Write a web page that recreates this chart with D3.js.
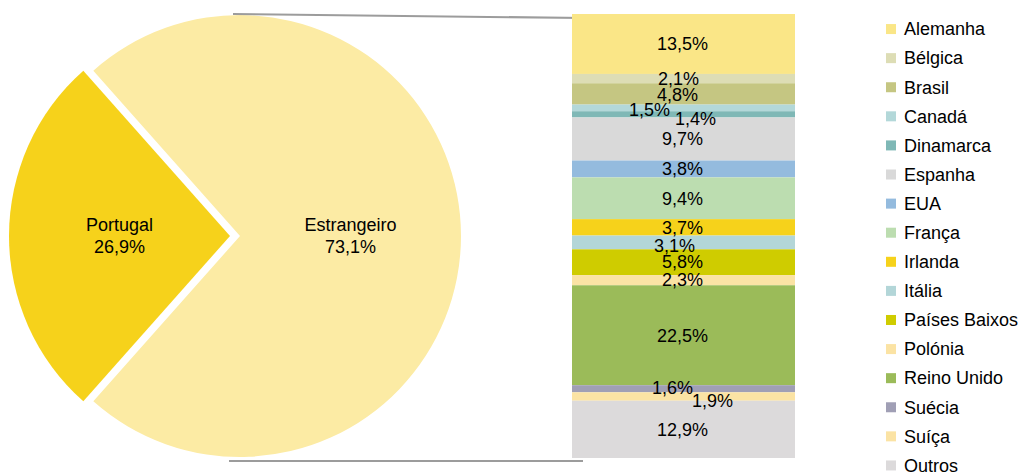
<!DOCTYPE html>
<html>
<head>
<meta charset="utf-8">
<script src="https://cdn.jsdelivr.net/npm/d3@7"></script>
<style>
  html, body { margin: 0; padding: 0; background: #fff; }
  svg { display: block; font-family: "Liberation Sans", Arial, sans-serif; }
</style>
</head>
<body>
<svg id="chart" width="1022" height="472"></svg>
<script>
// ---- data ----
const pieLabels = ["Portugal", "Estrangeiro"];
const pieValues = [26.9, 73.1];
const pieColors = ["#F6D21B", "#FCEBA4"];

const countries = ["Alemanha", "Bélgica", "Brasil", "Canadá", "Dinamarca", "Espanha", "EUA", "França",
  "Irlanda", "Itália", "Países Baixos", "Polónia", "Reino Unido", "Suécia", "Suíça", "Outros"];
const countryValues = [13.5, 2.1, 4.8, 1.5, 1.4, 9.7, 3.8, 9.4, 3.7, 3.1, 5.8, 2.3, 22.5, 1.6, 1.9, 12.9];
const countryColors = ["#FAE687", "#DDDDB5", "#C5C682", "#B3D8D9", "#7FB8B6", "#D9D9D9", "#94BBDE", "#BCDDB0",
  "#F6D21B", "#B3D6D8", "#CFCC00", "#FBE3A4", "#9BBB59", "#A09FB5", "#FBE3A4", "#DCDADB"];

// label nudges (Excel-style overlap avoidance), [dx, dy]
const labelNudge = [[0,0],[-4,0],[-5,1],[-33,2],[13,4],[0,0],[0,0],[0,0],
  [0,0],[-8,3],[0,0],[0,0],[0,0],[-10,-1],[30,4],[0,0]];

const fmt = v => d3.format(".1f")(v).replace(".", ",") + "%";

const svg = d3.select("#chart");

// ---- pie ----
const R = 221, cy = 236;
const centersX = [230, 240];
const half = pieValues[0] / 100 * Math.PI;
const pie = d3.pie().sort(null).value(d => d)
  .startAngle(1.5 * Math.PI - half).endAngle(3.5 * Math.PI - half);
const arcs = pie(pieValues);
const arc = d3.arc().innerRadius(0).outerRadius(R);

const pg = svg.append("g");
arcs.forEach((a, i) => {
  const g = pg.append("g").attr("transform", `translate(${centersX[i]},${cy})`);
  g.append("path").attr("d", arc(a)).attr("fill", pieColors[i]);
  const c = arc.centroid(a);
  const t = g.append("text").attr("text-anchor", "middle").attr("font-size", 18).attr("fill", "#000");
  t.append("tspan").attr("x", c[0]).attr("y", c[1] - 11).attr("dy", "0.35em").text(pieLabels[i]);
  t.append("tspan").attr("x", c[0]).attr("y", c[1] + 11).attr("dy", "0.35em").text(fmt(pieValues[i]));
});

// ---- stacked bar ----
const y = d3.scaleLinear().domain([0, 100]).range([14, 458]);
const x = d3.scaleBand().domain(["bar"]).range([572, 795]).padding(0);
let cum = 0;
const stacks = countryValues.map((v, i) => { const s = { i, y0: cum, y1: cum + v, v }; cum += v; return s; });

// connector lines
const conn = svg.append("g").attr("stroke", "#9C9C9C").attr("stroke-width", 2).attr("fill", "none");
conn.append("line").attr("x1", centersX[1] - 7).attr("y1", cy - R - 1)
  .attr("x2", x("bar") + 13).attr("y2", y(0) + 4);
conn.append("line").attr("x1", centersX[1] - 11).attr("y1", cy + R + 4)
  .attr("x2", x("bar") + 11).attr("y2", y(100) + 3);

const bg = svg.append("g");
bg.selectAll("rect").data(stacks).join("rect")
  .attr("x", x("bar")).attr("width", x.bandwidth())
  .attr("y", d => y(d.y0)).attr("height", d => y(d.y1) - y(d.y0))
  .attr("fill", d => countryColors[d.i]);

bg.selectAll("text").data(stacks).join("text")
  .attr("x", d => x("bar") + x.bandwidth() / 2 - 1 + labelNudge[d.i][0])
  .attr("y", d => (y(d.y0) + y(d.y1)) / 2 + labelNudge[d.i][1])
  .attr("dy", "0.35em")
  .attr("text-anchor", "middle").attr("font-size", 18).attr("fill", "#000")
  .text(d => fmt(d.v));

// ---- legend ----
const ly = d3.scaleBand().domain(countries).range([14.5, 480]);
const lg = svg.append("g");
const items = lg.selectAll("g").data(countries).join("g")
  .attr("transform", d => `translate(886,${ly(d) + ly.bandwidth() / 2})`);
items.append("rect").attr("x", 0).attr("y", -5).attr("width", 10).attr("height", 10)
  .attr("fill", (d, i) => countryColors[i]);
items.append("text").attr("x", 18).attr("y", 0).attr("dy", "0.35em")
  .attr("font-size", 18).attr("fill", "#000").text(d => d);
</script>
</body>
</html>
